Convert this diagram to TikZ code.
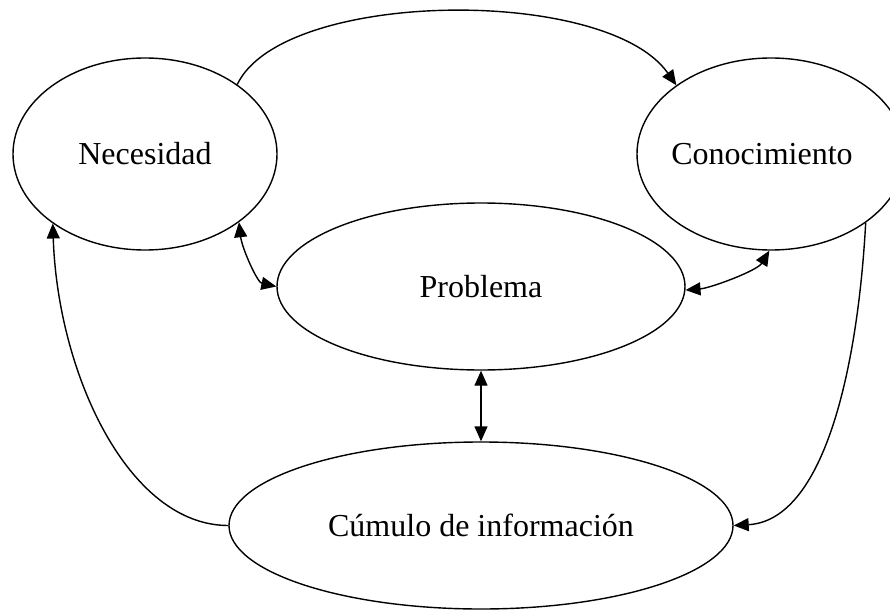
\documentclass[tikz,border=0pt]{standalone}
\usepackage{fontspec}
\setmainfont{Liberation Serif}
\usetikzlibrary{shapes.geometric,arrows.meta}
\begin{document}
\begin{tikzpicture}[x=1pt,y=-1pt,
  state/.style={ellipse,draw,line width=1.4pt,inner sep=0pt,font=\fontsize{32}{38}\selectfont},
  conn/.style={line width=1.4pt,-{Triangle[length=15pt,width=13pt]}},
  bconn/.style={line width=1.4pt,{Triangle[length=15pt,width=13pt]}-{Triangle[length=15pt,width=13pt]}}]
\useasboundingbox (0,0) rectangle (890,612);
\node[state,minimum width=264pt,minimum height=192pt] (nec) at (145,154) {Necesidad};
\node[state,minimum width=268pt,minimum height=192pt] (con) at (771,154) {\makebox[0pt]{\hspace*{-18pt}Conocimiento}};
\node[state,minimum width=408pt,minimum height=167pt] (pro) at (481,286.5) {Problema};
\node[state,minimum width=504pt,minimum height=167pt] (cum) at (481,525.5) {Cúmulo de información};
\draw[conn] (nec.37) .. controls +(45,-95) and +(-70,-100) .. (con.144);
\draw[bconn] (nec.-36) .. controls +(3,26) and +(-19,-4) .. (pro.180);
\draw[bconn] (pro.-1) .. controls +(25,-2) and +(-12,20) .. (con.-91);
\draw[bconn] (pro.south) -- (cum.north);
\draw[conn] (con.-36.5) .. controls +(-8,147) and +(90,-5) .. (cum.east);
\draw[conn] (cum.west) .. controls +(-100,0) and +(5,150) .. (nec.217);
\end{tikzpicture}
\end{document}
